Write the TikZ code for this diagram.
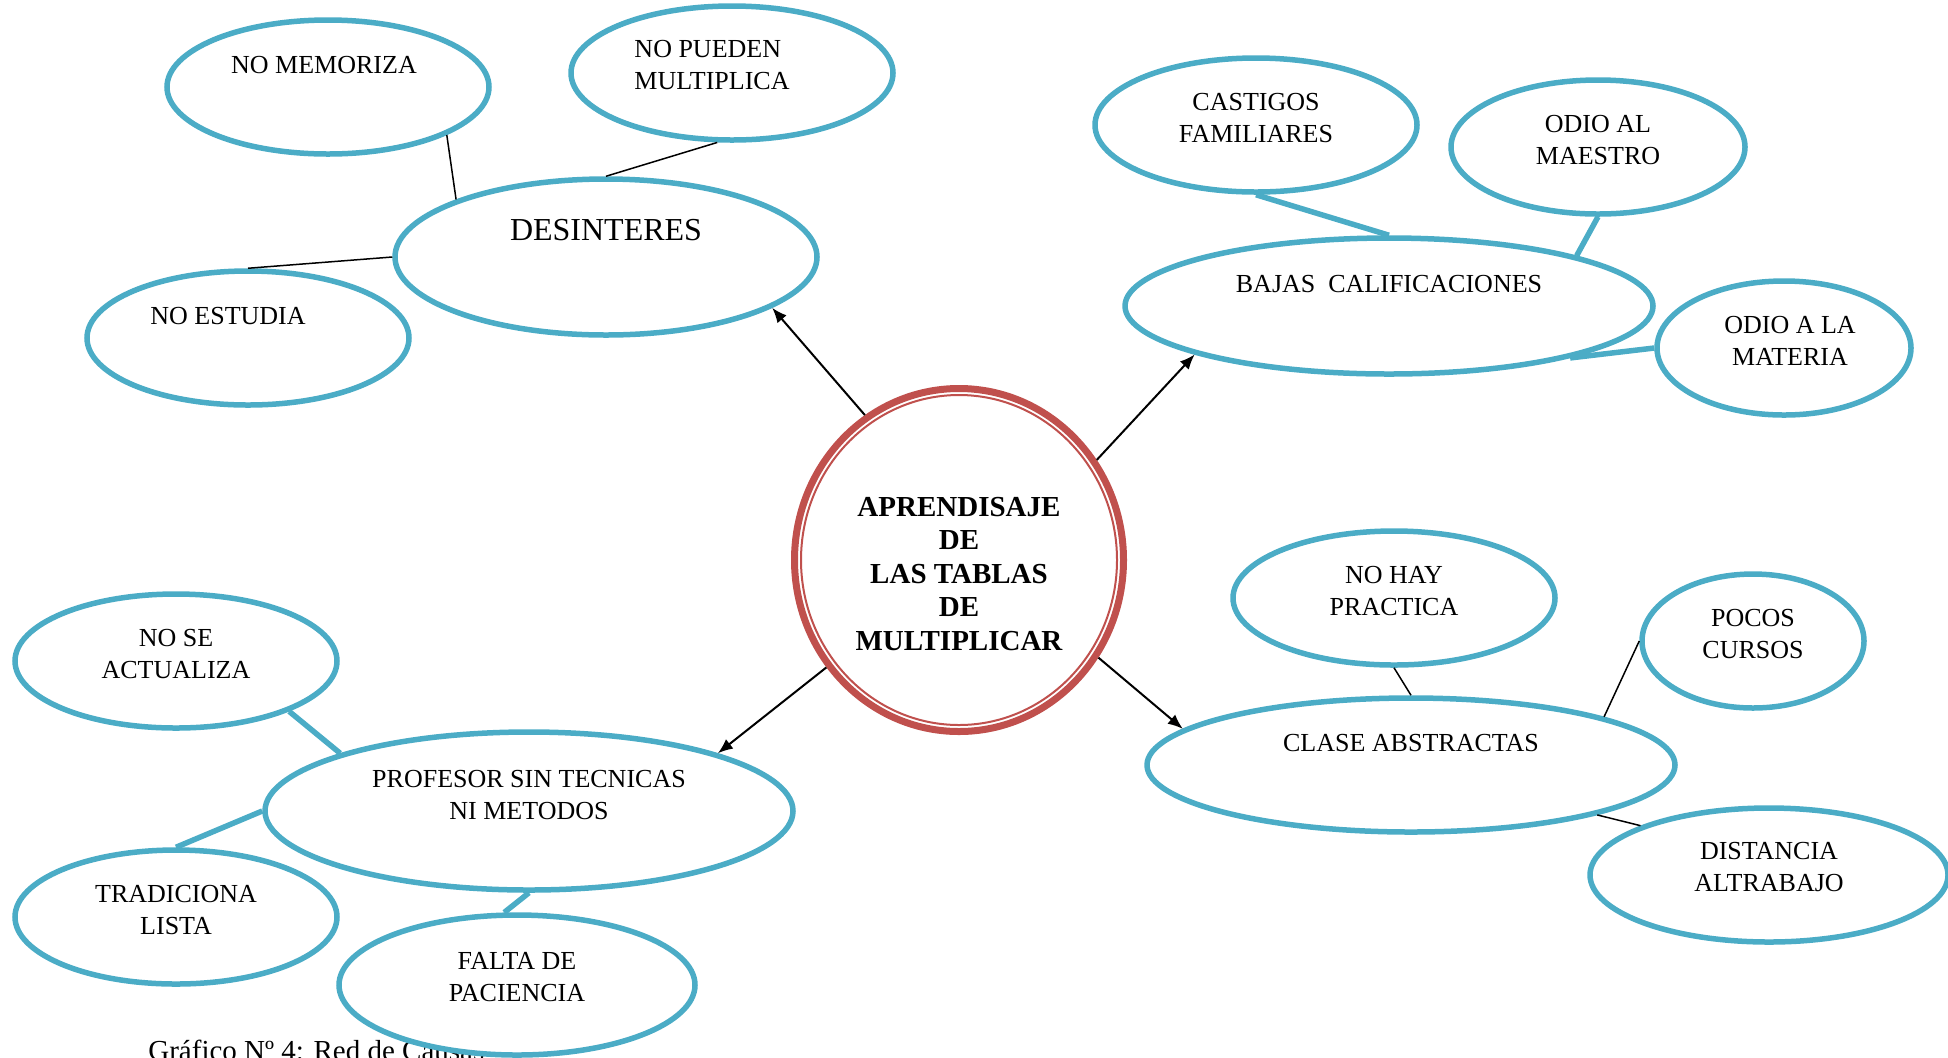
\documentclass[tikz,border=0pt]{standalone}
\usepackage{fontspec}
\setmainfont{Liberation Serif}
\usetikzlibrary{arrows,arrows.meta,positioning,shapes}
\definecolor{azul}{HTML}{4BACC6}
\definecolor{rojo}{HTML}{C0504D}

\begin{document}
\begin{tikzpicture}[x=0.5pt,y=-0.5pt,
            burbuja/.style={draw=azul,fill=white,ellipse,line width=2.75pt,inner sep=0pt},
            texto/.style={align=center,font=\fontsize{13}{16}\selectfont},
            tema/.style={align=center,font=\bfseries\fontsize{14.5}{16.75}\selectfont},
            rama/.style={draw=azul,line width=2.75pt},
            linea/.style={draw,line width=0.75pt},
            flecha/.style={draw,->,line width=1pt,>={Latex[length=7.5pt,width=6pt]}}
          ]
          \useasboundingbox (0,0) rectangle (1948,1057);

          %caption
          \node[anchor=base west,inner sep=0pt,font=\fontsize{14.5}{17}\selectfont] (pie) at (148,1060) {Gráfico Nº 4: Red de Causas};

          %centre
          \node[draw=rojo,fill=white,ellipse,line width=3.5pt,inner sep=0pt,minimum width=164.5pt,minimum height=171.5pt] (centro) at (959,560) {};
          \node[draw=rojo,ellipse,line width=1pt,inner sep=0pt,minimum width=158pt,minimum height=165pt] (anillo) at (centro.center) {};
          \node[tema] (centro-t) at ([yshift=-7pt]centro.center) {APRENDISAJE\\DE\\LAS TABLAS\\DE\\MULTIPLICAR};

          %desinteres
          \node[burbuja,minimum width=211pt,minimum height=78pt] (desint) at (606,257) {};
          \node[burbuja,minimum width=161pt,minimum height=67pt] (nomem) at (328,87) {};
          \node[burbuja,minimum width=161pt,minimum height=67pt] (nopueden) at (732,73) {};
          \node[burbuja,minimum width=161pt,minimum height=67pt] (noestud) at (248,338) {};
          \node[texto,font=\fontsize{16}{19}\selectfont] (desint-t) at ([yshift=13.5pt]desint.center) {DESINTERES};
          \node[texto] (nomem-t) at ([xshift=-2pt,yshift=11pt]nomem.center) {NO MEMORIZA};
          \node[texto,align=left] (nopueden-t) at ([xshift=-10pt,yshift=4pt]nopueden.center) {NO PUEDEN\\MULTIPLICA};
          \node[texto] (noestud-t) at ([xshift=-10pt,yshift=11pt]noestud.center) {NO ESTUDIA};

          %bajas calificaciones
          \node[burbuja,minimum width=264pt,minimum height=68pt] (bajas) at (1389,306) {};
          \node[burbuja,minimum width=161pt,minimum height=67pt] (castigos) at (1256,125) {};
          \node[burbuja,minimum width=147pt,minimum height=67pt] (odiomae) at (1598,147) {};
          \node[burbuja,minimum width=127pt,minimum height=67pt] (odiomat) at (1784,348) {};
          \node[texto] (bajas-t) at ([yshift=11pt]bajas.center) {BAJAS\ \ CALIFICACIONES};
          \node[texto] (castigos-t) at ([yshift=3.5pt]castigos.center) {CASTIGOS\\FAMILIARES};
          \node[texto] (odiomae-t) at ([yshift=3.5pt]odiomae.center) {ODIO AL\\MAESTRO};
          \node[texto] (odiomat-t) at ([xshift=3pt,yshift=3.5pt]odiomat.center) {ODIO A LA\\MATERIA};

          %clase abstractas
          \node[burbuja,minimum width=264pt,minimum height=67pt] (clase) at (1411,765) {};
          \node[burbuja,minimum width=161pt,minimum height=67pt] (nohay) at (1394,598) {};
          \node[burbuja,minimum width=111pt,minimum height=67pt] (pocos) at (1753,641) {};
          \node[burbuja,minimum width=179pt,minimum height=67pt] (distancia) at (1769,875) {};
          \node[texto] (clase-t) at ([yshift=11pt]clase.center) {CLASE ABSTRACTAS};
          \node[texto] (nohay-t) at ([yshift=3.5pt]nohay.center) {NO HAY\\PRACTICA};
          \node[texto] (pocos-t) at ([yshift=3.5pt]pocos.center) {POCOS\\CURSOS};
          \node[texto] (distancia-t) at ([yshift=4pt]distancia.center) {DISTANCIA\\ALTRABAJO};

          %profesor
          \node[burbuja,minimum width=264pt,minimum height=79pt] (profesor) at (529,811) {};
          \node[burbuja,minimum width=161pt,minimum height=67pt] (noseact) at (176,661) {};
          \node[burbuja,minimum width=161pt,minimum height=67pt] (tradic) at (176,917) {};
          \node[burbuja,minimum width=178pt,minimum height=70pt] (falta) at (517,985) {};
          \node[texto] (profesor-t) at ([yshift=8pt]profesor.center) {PROFESOR SIN TECNICAS\\NI METODOS};
          \node[texto] (noseact-t) at ([yshift=3.5pt]noseact.center) {NO SE\\ACTUALIZA};
          \node[texto] (tradic-t) at ([yshift=3.5pt]tradic.center) {TRADICIONA\\LISTA};
          \node[texto] (falta-t) at ([yshift=4pt]falta.center) {FALTA DE\\PACIENCIA};

          %branches
          \path[linea] (nomem.-22) -- (desint.159);
          \path[linea] (nopueden.258) -- (desint.north);
          \path[linea] (noestud.north) -- (desint.west);
          \path[rama] (castigos.south) -- (bajas.north);
          \path[rama] (odiomae.south) -- (bajas.15);
          \path[rama] (odiomat.west) -- (bajas.-16);
          \path[linea] (nohay.south) -- (clase.north);
          \path[linea] (pocos.west) -- (clase.14);
          \path[linea] (distancia.159) -- (clase.-15);
          \path[rama] (noseact.-24) -- (profesor.163);
          \path[rama] (tradic.north) -- (profesor.west);
          \path[rama] (falta.100) -- (profesor.south);

          %arrows
          \path[flecha] (centro.123) -- (desint.-17);
          \path[flecha] (centro.36) -- (bajas.194);
          \path[flecha] (centro.219) -- (profesor.17);
          \path[flecha] (centro.-35) -- (clase.171);

      \end{tikzpicture}
\end{document}
